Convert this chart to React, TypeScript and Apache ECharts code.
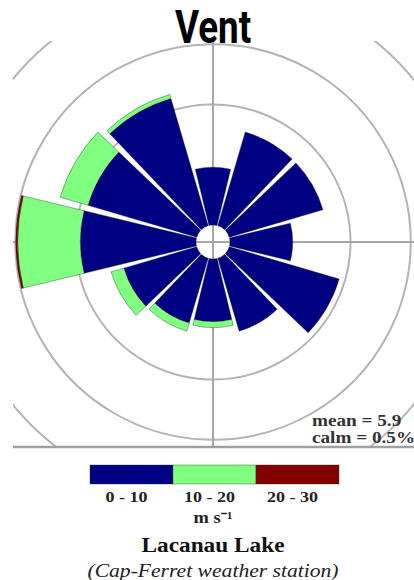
import React, { useEffect, useRef } from "react";
import * as echarts from "echarts";

// Direction sectors (degrees clockwise from north)
const directions = ["0°", "30°", "60°", "90°", "120°", "150°", "180°", "210°", "240°", "270°", "300°", "330°"];
// Frequency (%) per speed class, stacked
const freq0to10 = [4.8, 8.1, 8.1, 5.2, 9.5, 6.3, 5.2, 5.6, 6.3, 9.6, 9.4, 11.0];
const freq10to20 = [0, 0, 0, 0, 0, 0, 0.5, 0.7, 1.1, 5.2, 2.4, 0.35];
const freq20to30 = [0, 0, 0, 0, 0, 0, 0, 0, 0, 0.15, 0, 0];
const speedBins = ["0 - 10", "10 - 20", "20 - 30"];
const binColors = ["#000082", "#80ff80", "#820000"];
const radiusMax = 20;
const radiusStep = 5;
const statLines = ["mean = 5.9", "calm = 0.5%"];
const unitLabel = "m s⁻¹";
const siteName = "Lacanau Lake";
const stationName = "(Cap-Ferret weather station)";

export default function App() {
  const ref = useRef<HTMLDivElement>(null);
  useEffect(() => {
    if (!ref.current) return;
    const chart = echarts.init(ref.current, null, { renderer: "svg" });
    const cx = 213;
    const cy = 242;
    const serif = '"Liberation Serif", "Times New Roman", serif';
    const seriesData = [freq0to10, freq10to20, freq20to30];
    const series = seriesData.map((arr, i) => ({
      type: "bar",
      name: speedBins[i],
      coordinateSystem: "polar",
      polarIndex: 0,
      stack: "wind",
      barCategoryGap: "9%",
      data: arr.map((v) => (v === 0 ? null : v)),
      itemStyle: { color: binColors[i], borderColor: "rgba(20,20,20,0.6)", borderWidth: 0.6 },
      silent: true,
    }));

    const legendX0 = 90;
    const segW = 83;
    const legendGraphics: any[] = [];
    speedBins.forEach((label, i) => {
      legendGraphics.push({
        type: "rect",
        z: 101,
        shape: { x: legendX0 + i * segW, y: 465, width: segW, height: 19 },
        style: { fill: binColors[i], stroke: "rgba(40,40,40,0.6)", lineWidth: 0.6 },
      });
      legendGraphics.push({
        type: "text",
        z: 101,
        x: legendX0 + i * segW + segW / 2 - 5,
        y: 497,
        scaleX: 1.2,
        style: {
          text: label,
          font: `bold 15px ${serif}`,
          fill: "#222",
          align: "center",
          verticalAlign: "middle",
        },
      });
    });

    chart.setOption({
      animation: false,
      polar: [
        { center: [cx, cy], radius: [17, 258] },
        { center: [cx, cy], radius: [0, 258] },
      ],
      angleAxis: [
        {
          polarIndex: 0,
          type: "category",
          data: directions,
          startAngle: 105,
          clockwise: true,
          axisLine: { show: false },
          axisTick: { show: false },
          axisLabel: { show: false },
          splitLine: { show: false },
        },
        {
          polarIndex: 1,
          type: "value",
          min: 0,
          max: 360,
          interval: 90,
          startAngle: 90,
          axisLine: { show: false },
          axisTick: { show: false },
          axisLabel: { show: false },
          splitLine: { show: true, lineStyle: { color: "#a6a6a6", width: 2 } },
        },
      ],
      radiusAxis: [
        {
          polarIndex: 0,
          type: "value",
          min: 0,
          max: radiusMax,
          interval: radiusStep,
          axisLine: { show: false },
          axisTick: { show: false },
          axisLabel: { show: false },
          splitLine: {
            show: true,
            lineStyle: { color: ["transparent", "transparent", "#b4b4b4", "#b4b4b4", "#b4b4b4"], width: 2 },
          },
        },
        {
          polarIndex: 1,
          type: "value",
          min: 0,
          max: radiusMax,
          show: false,
          splitLine: { show: false },
        },
      ],
      series,
      graphic: [
        { type: "rect", z: 100, shape: { x: 0, y: 0, width: 414, height: 41 }, style: { fill: "#fff" } },
        { type: "rect", z: 100, shape: { x: 0, y: 0, width: 13, height: 448 }, style: { fill: "#fff" } },
        { type: "rect", z: 100, shape: { x: 0, y: 448, width: 414, height: 132 }, style: { fill: "#fff" } },
        {
          type: "line",
          z: 101,
          shape: { x1: 13, y1: 447, x2: 414, y2: 447 },
          style: { stroke: "#a0a0a0", lineWidth: 2.5 },
        },
        {
          type: "text",
          z: 101,
          x: cx,
          y: 27,
          scaleX: 0.8,
          style: {
            text: "Vent",
            font: "bold 46px Roboto, sans-serif",
            fill: "#000",
            align: "center",
            verticalAlign: "middle",
          },
        },
        ...statLines.map((t, i) => ({
          type: "text",
          z: 101,
          x: 312,
          y: 421 + i * 17,
          scaleX: 1.2,
          style: {
            text: t,
            font: `bold 16px ${serif}`,
            fill: "#333",
            align: "left",
            verticalAlign: "middle",
          },
        })),
        ...legendGraphics,
        {
          type: "text",
          z: 101,
          x: cx,
          y: 518,
          scaleX: 1.15,
          style: { text: unitLabel, font: `bold 16px ${serif}`, fill: "#222", align: "center", verticalAlign: "middle" },
        },
        {
          type: "text",
          z: 101,
          x: cx,
          y: 545,
          scaleX: 1.11,
          style: { text: siteName, font: `bold 21px ${serif}`, fill: "#111", align: "center", verticalAlign: "middle" },
        },
        {
          type: "text",
          z: 101,
          x: cx,
          y: 571,
          scaleX: 1.2,
          style: { text: stationName, font: `italic 18px ${serif}`, fill: "#222", align: "center", verticalAlign: "middle" },
        },
      ],
    });
    return () => chart.dispose();
  }, []);
  return <div ref={ref} style={{ position: "absolute", left: 0, top: 0, width: 414, height: 580 }} />;
}
